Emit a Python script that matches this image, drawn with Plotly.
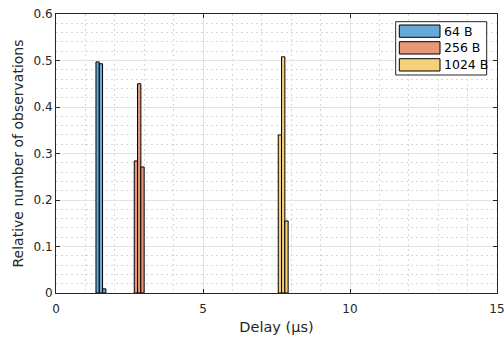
import plotly.graph_objects as go

# ---- data ----
series_names = ["64 B", "256 B", "1024 B"]
bin_width = 0.112
centers_64 = [1.416, 1.528, 1.640]
heights_64 = [0.497, 0.493, 0.009]
centers_256 = [2.718, 2.830, 2.942]
heights_256 = [0.284, 0.450, 0.271]
centers_1024 = [7.616, 7.728, 7.840]
heights_1024 = [0.340, 0.508, 0.155]
colors = ["#66AAD7", "#E89875", "#F4D079"]

x_ticks = [0, 5, 10, 15]
y_ticks = [0, 0.1, 0.2, 0.3, 0.4, 0.5, 0.6]

W, H = 504, 338
L, R, T, B = 56, 7, 14, 45
pw, ph = W - L - R, H - T - B

fig = go.Figure()
for name, cx, hy, col in zip(series_names,
                             [centers_64, centers_256, centers_1024],
                             [heights_64, heights_256, heights_1024], colors):
    fig.add_trace(go.Bar(x=cx, y=hy, width=bin_width, name=name,
                         marker=dict(color=col, line=dict(color="#000000", width=1)),
                         showlegend=False))

axcol = "#262626"
minor_grid = dict(showgrid=True, gridcolor="#D8D8D8", griddash="2px,3px", gridwidth=1)
fig.update_xaxes(range=[0, 15], tickvals=x_ticks, ticktext=[str(v) for v in x_ticks],
                 ticks="inside", ticklen=4, tickcolor=axcol, showline=True, linecolor=axcol,
                 linewidth=1, mirror="ticks", showgrid=True, gridcolor="#E2E2E2", gridwidth=1,
                 zeroline=False, ticklabeloverflow="allow", ticklabelstandoff=5, automargin=False,
                 minor=dict(dtick=1, **minor_grid),
                 title=dict(text="Delay (µs)", font=dict(size=14.5, color=axcol), standoff=6),
                 tickfont=dict(size=12, color=axcol))
fig.update_yaxes(range=[0, 0.6], tickvals=y_ticks, ticktext=["0", "0.1", "0.2", "0.3", "0.4", "0.5", "0.6"],
                 ticks="inside", ticklen=4, tickcolor=axcol, showline=True, linecolor=axcol,
                 linewidth=1, mirror="ticks", showgrid=True, gridcolor="#E2E2E2", gridwidth=1,
                 zeroline=False, automargin=False,
                 minor=dict(dtick=0.02, **minor_grid),
                 title=dict(text="Relative number of observations", font=dict(size=14, color=axcol), standoff=6),
                 tickfont=dict(size=12, color=axcol))

def px(xp):
    return (xp - L) / pw

def py(yp):
    return (H - B - yp) / ph

shapes = [dict(type="rect", xref="paper", yref="paper", x0=px(395.7), x1=px(486.7),
               y0=py(75), y1=py(21.7), line=dict(color=axcol, width=1), fillcolor="white", layer="above")]
annotations = []
rows = [(25, 37.3), (41.7, 54), (58.7, 71)]
for (y0, y1), name, col in zip(rows, series_names, colors):
    shapes.append(dict(type="rect", xref="paper", yref="paper", x0=px(399.3), x1=px(440),
                       y0=py(y1), y1=py(y0), line=dict(color="#000000", width=1), fillcolor=col,
                       layer="above"))
    annotations.append(dict(xref="paper", yref="paper", x=px(442), y=py((y0 + y1) / 2),
                            text=name, showarrow=False, xanchor="left", yanchor="middle",
                            font=dict(size=12.5, color="#000000")))

fig.update_layout(width=W, height=H, margin=dict(l=L, r=R, t=T, b=B),
                  plot_bgcolor="white", paper_bgcolor="white", barmode="overlay",
                  font=dict(family="DejaVu Sans", size=12, color=axcol),
                  shapes=shapes, annotations=annotations, showlegend=False)

fig.write_html("out.html")
